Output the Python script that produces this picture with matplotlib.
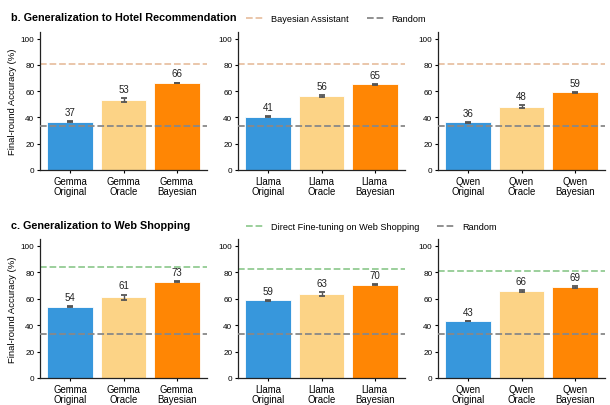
import matplotlib
matplotlib.use("Agg")
import matplotlib.pyplot as plt
from matplotlib.lines import Line2D

plt.rcParams['font.family'] = ['Liberation Sans', 'DejaVu Sans']

# data
models = ["Gemma", "Llama", "Qwen"]
variants = ["Original", "Oracle", "Bayesian"]
colors = ["#3797dc", "#fcd386", "#ff8604"]

hotel_acc = [[36.6, 53.3, 66.2], [40.6, 56.4, 65.3], [36.2, 48.0, 59.0]]
hotel_err = [[0.4, 1.3, 0.3], [0.4, 0.6, 0.3], [0.4, 1.1, 0.5]]
hotel_ref = [80.5, 80.5, 80.5]

web_acc = [[54.0, 61.0, 72.6], [58.7, 63.2, 70.3], [43.0, 65.8, 68.6]]
web_err = [[0.4, 2.0, 0.3], [0.3, 1.6, 0.4], [0.3, 0.6, 0.6]]
web_ref = [84.0, 82.0, 81.0]

random_level = 33.3

W, H = 610, 406
fig = plt.figure(figsize=(W / 100, H / 100), dpi=100)

lefts = [40, 238, 438]
rows = [
    dict(top=33, bottom=171, acc=hotel_acc, err=hotel_err, ref=hotel_ref,
         ref_color="#e8c2a4", ref_label="Bayesian Assistant",
         title="b. Generalization to Hotel Recommendation", title_y=18, leg_y=20),
    dict(top=240, bottom=379, acc=web_acc, err=web_err, ref=web_ref,
         ref_color="#93cc93", ref_label="Direct Fine-tuning on Web Shopping",
         title="c. Generalization to Web Shopping", title_y=226, leg_y=228),
]

for row in rows:
    for i, model in enumerate(models):
        ax = fig.add_axes([lefts[i] / W, 1 - row['bottom'] / H, 167 / W,
                           (row['bottom'] - row['top']) / H])
        xs = range(len(variants))
        ax.bar(xs, row['acc'][i], width=0.86, color=colors,
               edgecolor="white", linewidth=0.6, zorder=2)
        ax.errorbar(xs, row['acc'][i], yerr=row['err'][i], fmt='none',
                    ecolor="#555555", elinewidth=1, capsize=2.5, capthick=1.3, zorder=3)
        for x, v, e in zip(xs, row['acc'][i], row['err'][i]):
            ax.annotate(f"{v:.0f}", (x, v + e), xytext=(0, 3),
                        textcoords="offset points", ha="center", va="bottom",
                        fontsize=7, color="#222222")
        ax.axhline(row['ref'][i], color=row['ref_color'], ls="--", lw=1.3, zorder=1)
        ax.axhline(random_level, color="#888888", ls="--", lw=1.3, zorder=4)
        ax.set_xlim(-0.57, 2.57)
        ax.set_ylim(0, 105)
        ax.set_yticks([0, 20, 40, 60, 80, 100])
        ax.set_xticks(list(xs))
        ax.set_xticklabels([f"{model}\n{v}" for v in variants], fontsize=6.9,
                           linespacing=1.05)
        ax.tick_params(axis='y', labelsize=5.9, length=2.5, pad=1.5, width=0.8)
        ax.tick_params(axis='x', length=2.5, pad=1.5, width=0.8)
        for s in ['top', 'right']:
            ax.spines[s].set_visible(False)
        for s in ['left', 'bottom']:
            ax.spines[s].set_color("#222222")
            ax.spines[s].set_linewidth(0.9)
        if i == 0:
            ax.set_ylabel("Final-round Accuracy (%)", fontsize=6.8, labelpad=2.5)

    fig.text(11 / W, 1 - row['title_y'] / H, row['title'], fontsize=7.8,
             fontweight='bold', ha='left', va='center')
    handles = [Line2D([], [], color=row['ref_color'], ls="--", lw=1.3),
               Line2D([], [], color="#888888", ls="--", lw=1.3)]
    fig.legend(handles, [row['ref_label'], "Random"], loc='center left',
               bbox_to_anchor=(246 / W, 1 - row['leg_y'] / H), ncol=2,
               frameon=False, fontsize=6.6, handlelength=2.0, handletextpad=0.7,
               columnspacing=2.0, borderaxespad=0, borderpad=0)

fig.savefig("out.png", dpi=100)
